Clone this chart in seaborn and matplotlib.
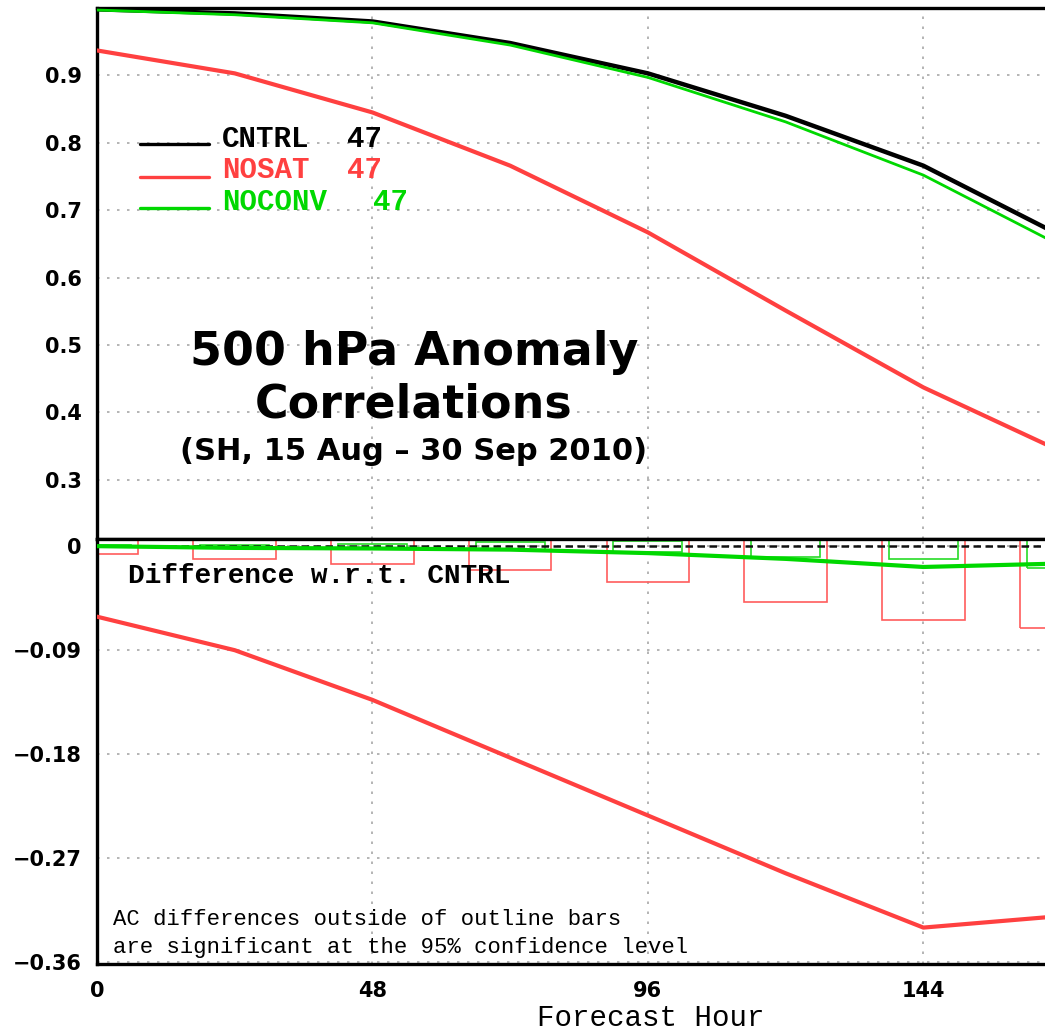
import numpy as np
import pandas as pd
import matplotlib
matplotlib.use("Agg")
import matplotlib.pyplot as plt
import seaborn as sns

# Forecast hours (24-hourly verification)
hours = [0, 24, 48, 72, 96, 120, 144, 168]

# 500 hPa anomaly correlations
ac_cntrl = [0.998, 0.992, 0.980, 0.948, 0.903, 0.840, 0.766, 0.662]
ac_nosat = [0.937, 0.903, 0.845, 0.766, 0.667, 0.551, 0.437, 0.342]
ac_noconv = [0.997, 0.990, 0.978, 0.945, 0.897, 0.831, 0.752, 0.647]

# Differences with respect to CNTRL
diff_cntrl = [0.0, 0.0, 0.0, 0.0, 0.0, 0.0, 0.0, 0.0]
diff_nosat = [-0.061, -0.090, -0.133, -0.183, -0.233, -0.283, -0.330, -0.320]
diff_noconv = [0.0, -0.0015, -0.002, -0.003, -0.006, -0.011, -0.018, -0.015]

# 95% confidence half-widths (outline bars)
ci_nosat = [0.0072, 0.0113, 0.015, 0.021, 0.031, 0.048, 0.064, 0.071]
ci_noconv = [0.0008, 0.0012, 0.0018, 0.0035, 0.0049, 0.0092, 0.0115, 0.0188]

experiments = ["CNTRL", "NOSAT", "NOCONV"]
n_cases = [47, 47, 47]
top_ticks = [0.3, 0.4, 0.5, 0.6, 0.7, 0.8, 0.9]
bottom_ticks = [0.0, -0.09, -0.18, -0.27, -0.36]
x_ticks = [0, 48, 96, 144]

colors = {"CNTRL": "#000000", "NOSAT": "#ff4040", "NOCONV": "#00d800"}
box_colors = {"NOSAT": "#ff5c5c", "NOCONV": "#28dc28"}

top_df = pd.DataFrame({
    "hour": hours * 3,
    "ac": ac_cntrl + ac_nosat + ac_noconv,
    "exp": sum([[e] * len(hours) for e in experiments], []),
})
diff_df = pd.DataFrame({
    "hour": hours * 3,
    "diff": diff_cntrl + diff_nosat + diff_noconv,
    "exp": sum([[e] * len(hours) for e in experiments], []),
})

sns.set_theme(style="white")
plt.rcParams["font.family"] = ["DejaVu Sans"]
plt.rcParams["text.color"] = "black"
plt.rcParams["axes.labelcolor"] = "black"

W, H = 1045, 1033
fig = plt.figure(figsize=(W / 100, H / 100), dpi=100)


def fx(p):
    return p / W


def fy(p):
    return 1 - p / H


ax_top = fig.add_axes([fx(97), fy(539), fx(1045) - fx(97), fy(8) - fy(539)])
ax_bot = fig.add_axes([fx(97), fy(964), fx(1045) - fx(97), fy(539) - fy(964)])

grid_kw = dict(color="#a8a8a8", linewidth=1.2, linestyle=(0, (1.5, 4.5)))
xmax = 165.2

# ---- upper panel: anomaly correlations ----
widths_top = {"CNTRL": 3.2, "NOSAT": 3.0, "NOCONV": 2.0}
for e in experiments:
    sns.lineplot(data=top_df[top_df["exp"] == e], x="hour", y="ac", ax=ax_top,
                 color=colors[e], linewidth=widths_top[e], legend=False, zorder=3)
ax_top.set_xlim(0, xmax)
ax_top.set_ylim(0.212, 1.0)
ax_top.set_yticks(top_ticks)
ax_top.set_yticklabels([f"{t:.1f}" for t in top_ticks])
ax_top.set_xticks(x_ticks)
ax_top.tick_params(axis="x", length=0, labelbottom=False)
ax_top.grid(True, **grid_kw)
ax_top.set_axisbelow(True)
ax_top.set_xlabel("")
ax_top.set_ylabel("")

# ---- lower panel: differences and confidence bars ----
ax_bot.bar(hours, [2 * c for c in ci_nosat], bottom=[-c for c in ci_nosat],
           width=14.4, fill=False, edgecolor=box_colors["NOSAT"], linewidth=1.2, zorder=2)
ax_bot.bar(hours, [2 * c for c in ci_noconv], bottom=[-c for c in ci_noconv],
           width=12.0, fill=False, edgecolor=box_colors["NOCONV"], linewidth=1.2, zorder=2)
sns.lineplot(data=diff_df[diff_df["exp"] == "CNTRL"], x="hour", y="diff", ax=ax_bot,
             color="#111111", linewidth=1.8, dashes=False, legend=False, zorder=3)
ax_bot.lines[-1].set_dashes((3, 1.8))
sns.lineplot(data=diff_df[diff_df["exp"] == "NOSAT"], x="hour", y="diff", ax=ax_bot,
             color=colors["NOSAT"], linewidth=3.0, legend=False, zorder=4)
sns.lineplot(data=diff_df[diff_df["exp"] == "NOCONV"], x="hour", y="diff", ax=ax_bot,
             color=colors["NOCONV"], linewidth=3.0, legend=False, zorder=4)
ax_bot.set_xlim(0, xmax)
ax_bot.set_ylim(-0.3615, 0.0062)
ax_bot.set_yticks(bottom_ticks)
ax_bot.set_yticklabels(["0"] + [f"\u2212{abs(t):.2f}" for t in bottom_ticks[1:]])
ax_bot.set_xticks(x_ticks)
ax_bot.set_xticklabels([str(t) for t in x_ticks])
ax_bot.grid(True, **grid_kw)
ax_bot.set_axisbelow(True)
ax_bot.set_xlabel("")
ax_bot.set_ylabel("")

for ax in (ax_top, ax_bot):
    ax.spines["right"].set_visible(False)
    for s in ("left", "top", "bottom"):
        ax.spines[s].set_visible(True)
        ax.spines[s].set_color("black")
        ax.spines[s].set_linewidth(2.4)
    ax.tick_params(axis="both", direction="out", length=5, width=1.6, color="black",
                   pad=6, labelsize=15, labelcolor="black")
    for lab in ax.get_yticklabels() + ax.get_xticklabels():
        lab.set_fontweight("bold")
        lab.set_family("DejaVu Sans")
ax_top.tick_params(axis="x", length=0)
ax_bot.tick_params(axis="x", pad=7)

# ---- legend keys and labels ----
mono = "Liberation Mono"
key_rows = [(144, 147), (177, 178), (208, 210)]
num_x = [347, 347, 373]
for e, n, (ly, by), nx in zip(experiments, n_cases, key_rows, num_x):
    fig.add_artist(plt.Line2D([fx(140), fx(209)], [fy(ly), fy(ly)], transform=fig.transFigure,
                              color=colors[e], linewidth=2.4))
    fig.text(fx(222), fy(by), e, color=colors[e], family=mono, fontweight="bold",
             fontsize=21, va="baseline", ha="left")
    fig.text(fx(nx), fy(by), str(n), color=colors[e], family=mono, fontweight="bold",
             fontsize=21, va="baseline", ha="left")

# ---- title block ----
fig.text(fx(414), fy(365), "500 hPa Anomaly", ha="center", va="baseline",
         fontsize=33, fontweight="bold", family="DejaVu Sans", color="black")
fig.text(fx(414), fy(417), "Correlations", ha="center", va="baseline",
         fontsize=33, fontweight="bold", family="DejaVu Sans", color="black")
fig.text(fx(414), fy(460), "(SH, 15 Aug \u2013 30 Sep 2010)", ha="center", va="baseline",
         fontsize=22, fontweight="bold", family="DejaVu Sans", color="black")

# ---- annotations ----
fig.text(fx(128), fy(583), "Difference w.r.t. CNTRL", family=mono, fontweight="bold",
         fontsize=20, va="baseline", ha="left", color="black")
fig.text(fx(113), fy(925), "AC differences outside of outline bars", family=mono,
         fontsize=16, va="baseline", ha="left", color="black")
fig.text(fx(113), fy(953), "are significant at the 95% confidence level", family=mono,
         fontsize=16, va="baseline", ha="left", color="black")
fig.text(fx(651), fy(1026), "Forecast Hour", family=mono, fontsize=21,
         va="baseline", ha="center", color="black")

fig.savefig("out.png", dpi=100, facecolor="white")
